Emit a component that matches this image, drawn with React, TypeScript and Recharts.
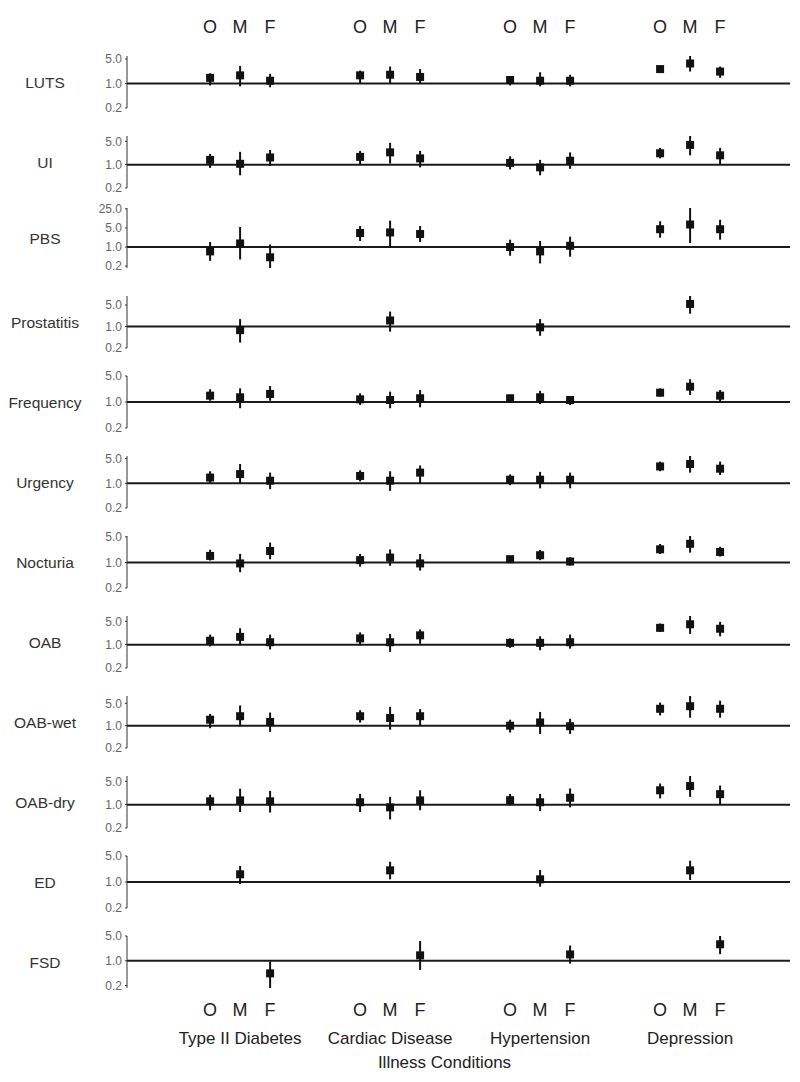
import { ScatterChart, Scatter, XAxis, YAxis, ZAxis, ReferenceLine, ErrorBar } from 'recharts';

// rows of the figure
const symptoms = ['LUTS', 'UI', 'PBS', 'Prostatitis', 'Frequency', 'Urgency', 'Nocturia', 'OAB', 'OAB-wet', 'OAB-dry', 'ED', 'FSD'];
// column groups, each split into O / M / F
const illnesses = ['Type II Diabetes', 'Cardiac Disease', 'Hypertension', 'Depression'];
const sexes = ['O', 'M', 'F'];
const yTicks = [0.2, 1, 5];
const pbsTicks = [0.2, 1, 5, 25];

const _ = null;
// odds ratios, order: diabetes O M F, cardiac O M F, hypertension O M F, depression O M F
const oddsRatio: (number | null)[][] = [
  [1.45, 1.71, 1.2, 1.71, 1.78, 1.54, 1.26, 1.2, 1.2, 2.58, 3.73, 2.19], // LUTS
  [1.39, 1.06, 1.64, 1.71, 2.33, 1.54, 1.13, 0.83, 1.31, 2.19, 3.9, 1.9], // UI
  [0.69, 1.35, 0.42, 3.26, 3.43, 3.0, 1.0, 0.69, 1.11, 4.5, 6.7, 4.5], // PBS
  [_, 0.76, _, _, 1.57, _, _, 0.94, _, _, 5.4, _], // Prostatitis
  [1.48, 1.34, 1.64, 1.18, 1.13, 1.26, 1.26, 1.34, 1.13, 1.78, 2.58, 1.48], // Frequency
  [1.45, 1.82, 1.18, 1.61, 1.18, 2.0, 1.26, 1.26, 1.26, 2.99, 3.5, 2.58], // Urgency
  [1.51, 0.94, 2.06, 1.16, 1.36, 0.94, 1.23, 1.58, 1.06, 2.29, 3.24, 1.94], // Nocturia
  [1.31, 1.71, 1.18, 1.54, 1.18, 1.9, 1.13, 1.13, 1.18, 3.18, 4.07, 2.99], // OAB
  [1.54, 1.98, 1.31, 1.98, 1.74, 1.98, 1.0, 1.26, 0.96, 3.38, 4.07, 3.38], // OAB-wet
  [1.26, 1.34, 1.26, 1.18, 0.83, 1.34, 1.36, 1.18, 1.61, 2.69, 3.6, 2.06], // OAB-dry
  [_, 1.61, _, _, 2.06, _, _, 1.18, _, _, 2.06, _], // ED
  [_, _, 0.44, _, _, 1.42, _, _, 1.51, _, _, 2.92], // FSD
];
const ciLower: (number | null)[][] = [
  [0.88, 0.83, 0.78, 1.02, 1.02, 1.02, 0.88, 0.83, 0.83, 2.0, 2.2, 1.45],
  [0.8, 0.48, 0.92, 0.98, 1.08, 0.83, 0.72, 0.48, 0.75, 1.54, 1.9, 1.02],
  [0.31, 0.35, 0.17, 1.66, 0.98, 1.53, 0.48, 0.25, 0.44, 2.2, 1.4, 1.86],
  [_, 0.3, _, _, 0.68, _, _, 0.5, _, _, 2.6, _],
  [1.08, 0.68, 1.08, 0.83, 0.68, 0.72, 0.96, 0.88, 0.83, 1.39, 1.54, 1.02],
  [1.02, 1.02, 0.68, 1.13, 0.61, 1.02, 0.88, 0.72, 0.72, 2.19, 2.0, 1.71],
  [1.13, 0.54, 1.23, 0.77, 0.81, 0.6, 1.0, 1.16, 0.82, 1.7, 1.86, 1.45],
  [0.88, 0.96, 0.72, 0.96, 0.61, 1.06, 0.8, 0.68, 0.76, 2.4, 2.1, 1.78],
  [0.83, 0.96, 0.64, 1.25, 0.75, 1.02, 0.61, 0.55, 0.55, 2.1, 1.78, 1.78],
  [0.68, 0.6, 0.58, 0.6, 0.36, 0.68, 0.96, 0.64, 0.83, 1.54, 1.71, 1.0],
  [_, 0.88, _, _, 1.18, _, _, 0.75, _, _, 1.13, _],
  [_, _, 0.17, _, _, 0.55, _, _, 0.83, _, _, 1.54],
];
const ciUpper: (number | null)[][] = [
  [1.97, 3.18, 1.89, 2.34, 3.05, 2.58, 1.64, 2.1, 1.78, 3.18, 6.1, 3.05],
  [2.1, 2.42, 2.74, 2.58, 4.5, 2.58, 1.78, 1.39, 2.33, 3.18, 7.2, 3.18],
  [1.53, 5.4, 1.24, 5.9, 9.3, 5.9, 1.86, 1.66, 2.4, 8.8, 27, 10],
  [_, 1.74, _, _, 3.05, _, _, 1.74, _, _, 9.8, _],
  [2.2, 2.33, 2.69, 1.71, 1.9, 2.1, 1.54, 2.0, 1.45, 2.33, 4.1, 2.1],
  [2.19, 3.5, 2.0, 2.33, 2.19, 3.18, 1.78, 2.1, 2.0, 4.1, 5.9, 4.1],
  [2.23, 1.71, 3.5, 1.71, 2.27, 1.71, 1.5, 2.2, 1.39, 3.2, 5.3, 2.69],
  [2.0, 3.1, 2.0, 2.33, 2.1, 2.86, 1.54, 1.78, 2.0, 4.3, 7.2, 4.8],
  [2.33, 4.3, 2.58, 3.05, 3.9, 3.3, 1.54, 2.69, 1.64, 5.3, 8.5, 6.1],
  [1.98, 3.0, 2.58, 2.1, 1.71, 2.69, 2.1, 2.1, 3.05, 4.3, 7.2, 3.73],
  [_, 2.69, _, _, 3.5, _, _, 2.1, _, _, 3.73, _],
  [_, _, 0.96, _, _, 3.6, _, _, 2.69, _, _, 5.0],
];

// each illness takes 5 slots: O, M, F and a two-slot gap
const xPos = (g: number, s: number) => g * 5 + s;
const xTicks = illnesses.flatMap((_g, g) => sexes.map((_s, s) => xPos(g, s)));
const xDomain = [-2.77, 19.33];

function rowData(r: number) {
  const out: { x: number; y: number; err: [number, number] }[] = [];
  illnesses.forEach((_g, g) =>
    sexes.forEach((_s, s) => {
      const k = g * 3 + s;
      const v = oddsRatio[r][k];
      if (v == null) return;
      out.push({ x: xPos(g, s), y: v, err: [v - (ciLower[r][k] as number), (ciUpper[r][k] as number) - v] });
    })
  );
  return out;
}

const font = '"Liberation Sans", Arial, Helvetica, sans-serif';

const RowLabel = (p: any) => {
  const vb = p.viewBox || {};
  return (
    <text x={45} y={vb.y + vb.height / 2} textAnchor="middle" dominantBaseline="central" fontSize={15.5} fill="#333">
      {p.value}
    </text>
  );
};

const BottomTick = (p: any) => {
  const idx = xTicks.indexOf(p.payload.value);
  const s = idx % 3;
  const g = Math.floor(idx / 3);
  return (
    <g>
      <text x={p.x} y={p.y} dy="0.71em" textAnchor="middle" fontSize={18} fill="#222">
        {sexes[s]}
      </text>
      {s === 1 && (
        <text x={p.x} y={p.y + 29} dy="0.71em" textAnchor="middle" fontSize={17} fill="#222">
          {illnesses[g]}
        </text>
      )}
    </g>
  );
};

function Row({ r }: { r: number }) {
  const first = r === 0;
  const last = r === symptoms.length - 1;
  const isPbs = symptoms[r] === 'PBS';
  const ticks = isPbs ? pbsTicks : yTicks;
  const plotH = isPbs ? 60 : 52;
  const topAxisH = first ? 30 : 0;
  const bottomAxisH = last ? 64 : 0;
  const height = first ? 120 : last ? 160 : 80;
  const marginTop = first ? 26 : isPbs ? 8 : 16;
  const marginBottom = height - marginTop - topAxisH - plotH - bottomAxisH;
  const yDomain = [ticks[0], ticks[ticks.length - 1]];

  return (
    <ScatterChart width={800} height={height} margin={{ top: marginTop, right: 10, bottom: marginBottom, left: 0 }}>
      {first ? (
        <XAxis
          type="number"
          dataKey="x"
          orientation="top"
          domain={xDomain}
          ticks={xTicks}
          interval={0}
          height={30}
          axisLine={false}
          tickLine={false}
          tickSize={0}
          tickMargin={23}
          tickFormatter={(v: number) => sexes[v % 5]}
          tick={{ fontSize: 18, fill: '#222' }}
        />
      ) : last ? (
        <XAxis
          type="number"
          dataKey="x"
          domain={xDomain}
          ticks={xTicks}
          interval={0}
          height={64}
          axisLine={false}
          tickLine={false}
          tickSize={0}
          tickMargin={15}
          tick={(p: any) => <BottomTick {...p} />}
          label={{ value: 'Illness Conditions', position: 'bottom', offset: 4, dx: -14, fontSize: 17, fill: '#222' }}
        />
      ) : (
        <XAxis type="number" dataKey="x" domain={xDomain} hide />
      )}
      <YAxis
        type="number"
        dataKey="y"
        scale="log"
        domain={() => yDomain}
        ticks={ticks}
        interval={0}
        width={127}
        stroke="#333"
        tickSize={2}
        tickMargin={3}
        tick={{ fontSize: 12, fill: '#666' }}
        tickFormatter={(v: number) => v.toFixed(1)}
        label={{ value: symptoms[r], content: RowLabel }}
      />
      <ZAxis type="number" range={[52, 52]} />
      <ReferenceLine y={1} stroke="#1a1a1a" strokeWidth={2} />
      <Scatter data={rowData(r)} shape="square" fill="#111" isAnimationActive={false}>
        <ErrorBar dataKey="err" direction="y" width={0} stroke="#111" strokeWidth={2} />
      </Scatter>
    </ScatterChart>
  );
}

export default function App() {
  return (
    <div style={{ position: 'absolute', left: 0, top: 0, width: 800, background: '#fff', fontFamily: font }}>
      {symptoms.map((_s, r) => (
        <Row key={r} r={r} />
      ))}
    </div>
  );
}
